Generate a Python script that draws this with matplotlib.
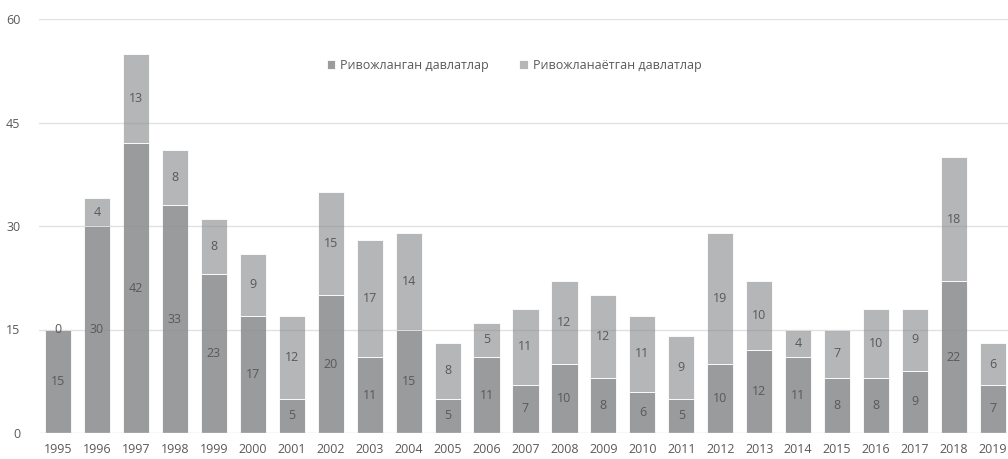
import matplotlib
matplotlib.use("Agg")
import matplotlib.pyplot as plt
import numpy as np

years = [str(y) for y in range(1995, 2020)]
developed = [15, 30, 42, 33, 23, 17, 5, 20, 11, 15, 5, 11, 7, 10, 8, 6, 5, 10, 12, 11, 8, 8, 9, 22, 7]
developing = [0, 4, 13, 8, 8, 9, 12, 15, 17, 14, 8, 5, 11, 12, 12, 11, 9, 19, 10, 4, 7, 10, 9, 18, 6]
series_names = ["Ривожланган давлатлар", "Ривожланаётган давлатлар"]
yticks = [0, 15, 30, 45, 60]

plt.rcParams['font.family'] = ['Open Sans', 'DejaVu Sans']
c_dark = '#9a9b9d'
c_light = '#b5b6b8'
txt = '#595959'
fs = 9.0

fig = plt.figure(figsize=(10.08, 4.59), dpi=100)
W, H = 1008, 459
x0, x1 = 38.5, 1012.5
y0, y1 = 433, 19
ax = fig.add_axes([x0 / W, 1 - y0 / H, (x1 - x0) / W, (y0 - y1) / H])

x = np.arange(len(years))
bw = 0.67
ax.bar(x, developed, bw, color=c_dark, edgecolor='white', linewidth=0.6, label=series_names[0], zorder=2)
ax.bar(x, developing, bw, bottom=developed, color=c_light, edgecolor='white', linewidth=0.6, label=series_names[1], zorder=2)

for xi, d, g in zip(x, developed, developing):
    ax.text(xi, d / 2, str(d), ha='center', va='center', fontsize=fs, color=txt, zorder=4)
    ax.text(xi, d + g / 2, str(g), ha='center', va='center', fontsize=fs, color=txt, zorder=4)

ax.set_xlim(-0.5, len(years) - 0.5)
ax.set_ylim(0, 60)
ax.set_yticks(yticks)
ax.set_yticklabels([str(v) for v in yticks])
ax.set_xticks(x)
ax.set_xticklabels(years)
ax.tick_params(axis='both', length=0, labelsize=fs, labelcolor=txt)
ax.tick_params(axis='y', pad=13)
ax.tick_params(axis='x', pad=7)
for v in yticks[1:]:
    ax.axhline(v, color='#8c8c8c', alpha=0.26, linewidth=1.0, zorder=3)
ax.axhline(0, color='#d9d9d9', linewidth=1.0, zorder=3)
for s in ax.spines.values():
    s.set_visible(False)

ax.legend(loc='upper center', bbox_to_anchor=(0.5 + (514 - (x0 + x1) / 2) / (x1 - x0), 0.93),
          ncol=2, frameon=False, fontsize=fs, handlelength=0.7, handleheight=0.7,
          columnspacing=2.4, handletextpad=0.4, labelcolor=txt)

fig.savefig('out.png', dpi=100)
